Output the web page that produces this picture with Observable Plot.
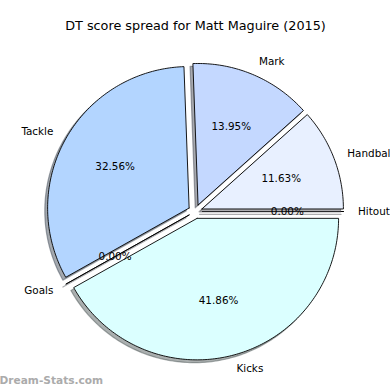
<!DOCTYPE html>
<html><head><meta charset="utf-8">
<script src="https://cdn.jsdelivr.net/npm/d3@7"></script>
<script src="https://cdn.jsdelivr.net/npm/@observablehq/plot@0.6"></script>
<style>body{margin:0;background:#fff} svg{overflow:visible}</style>
</head><body><div id="chart"></div>
<script>
const title = "DT score spread for Matt Maguire (2015)";
const watermark = "Dream-Stats.com";
const categories = ["Hitout", "Handball", "Mark", "Tackle", "Goals", "Kicks"];
const counts = [0, 5, 6, 14, 0, 18];
const colors = ["#f2f6ff", "#e8f0ff", "#c4d8ff", "#b3d5ff", "#ddeeff", "#dbffff"];
const explode = [0.05, 0.05, 0.05, 0.05, 0.05, 0.05];

const total = d3.sum(counts);
const rad = d => d * Math.PI / 180;
let start = 0;
const slices = categories.map((name, i) => {
  const a0 = start, a1 = start + counts[i] / total * 360;
  start = a1;
  const mid = (a0 + a1) / 2;
  const cx = explode[i] * Math.cos(rad(mid)), cy = explode[i] * Math.sin(rad(mid));
  const pts = [{x: cx, y: cy}];
  const n = Math.max(1, Math.ceil(a1 - a0));
  for (let k = 0; k <= n; k++) {
    const a = a0 + (a1 - a0) * k / n;
    pts.push({x: cx + Math.cos(rad(a)), y: cy + Math.sin(rad(a))});
  }
  pts.push({x: cx, y: cy});
  const c = d3.rgb(colors[i]);
  const shade = d3.rgb(c.r * 0.3, c.g * 0.3, c.b * 0.3).formatHex();
  return {
    name, i, pts, color: colors[i], shade,
    lx: cx + 1.1 * Math.cos(rad(mid)), ly: cy + 1.1 * Math.sin(rad(mid)),
    px: cx + 0.6 * Math.cos(rad(mid)), py: cy + 0.6 * Math.sin(rad(mid)),
    pct: (counts[i] / total * 100).toFixed(2) + "%"
  };
});

const R = 141.5;
const marks = [];
for (const s of slices) {
  marks.push(Plot.line(s.pts, {x: "x", y: "y", fill: s.shade, fillOpacity: 0.45, stroke: s.shade, strokeOpacity: 0.45, strokeWidth: 1.2, dx: -0.02 * R, dy: 0.02 * R}));
  marks.push(Plot.line(s.pts, {x: "x", y: "y", fill: s.color, stroke: "black", strokeWidth: 0.9, strokeLinejoin: "round"}));
}
const font = "DejaVu Sans";
marks.push(Plot.text(slices.filter(s => s.lx > 0), {x: "lx", y: "ly", text: "name", textAnchor: "start", fontSize: 10.4, fill: "black"}));
marks.push(Plot.text(slices.filter(s => s.lx <= 0), {x: "lx", y: "ly", text: "name", textAnchor: "end", fontSize: 10.4, fill: "black"}));
marks.push(Plot.text(slices, {x: "px", y: "py", text: "pct", textAnchor: "middle", fontSize: 10.4, fill: "black"}));
marks.push(Plot.text([title], {text: d => d, frameAnchor: "top", dy: 25, lineAnchor: "middle", fontSize: 12.8, fill: "black"}));
marks.push(Plot.text([watermark], {text: d => d, frameAnchor: "bottom-left", dx: -1, dy: -10, textAnchor: "start", lineAnchor: "middle", fontSize: 10.6, fontWeight: "bold", fill: "#ababab"}));

const chart = Plot.plot({
  width: 390, height: 390,
  margin: 0,
  style: {fontFamily: font, background: "white", overflow: "visible"},
  x: {domain: [-194.8 / R, (390 - 194.8) / R], axis: null},
  y: {domain: [(211 - 390) / R, 211 / R], axis: null},
  marks
});
document.getElementById("chart").appendChild(chart);
</script>
</body></html>
